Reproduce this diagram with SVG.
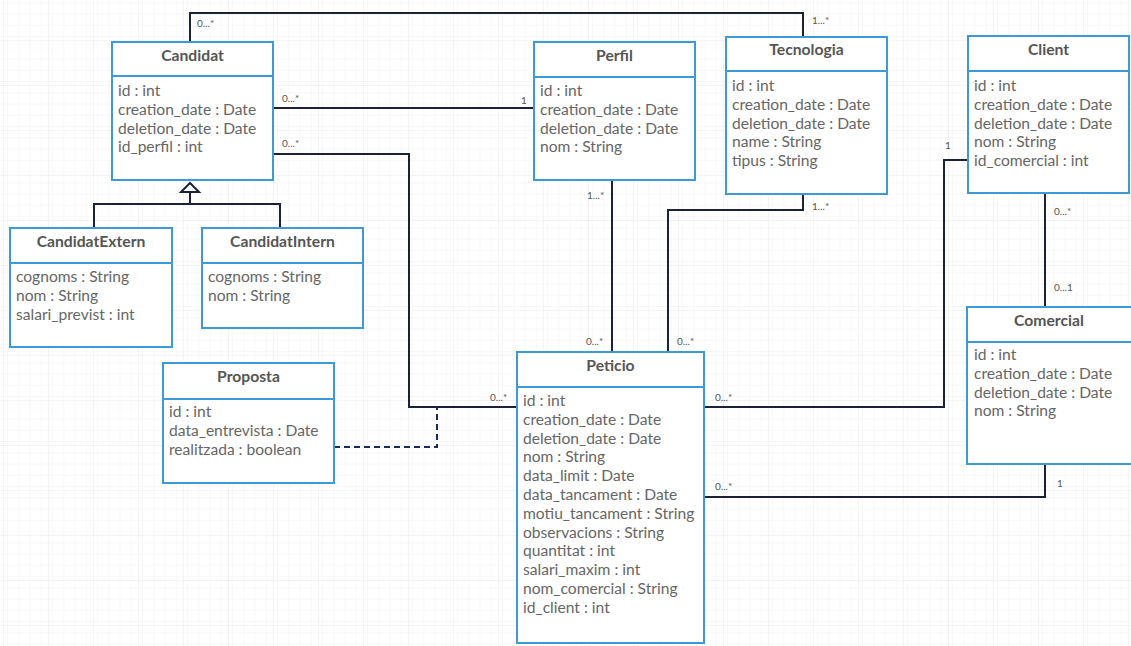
<svg xmlns="http://www.w3.org/2000/svg" width="1131" height="646" viewBox="0 0 1131 646">
<style>
.box{fill:#fff;stroke:#3d9ad6;stroke-width:2}
.div{stroke:#3d9ad6;stroke-width:2}
.title{font-family:Lato,"Liberation Sans",sans-serif;font-weight:bold;font-size:15.7px;fill:#555;text-anchor:middle}
.attr{font-family:Lato,"Liberation Sans",sans-serif;font-size:15.6px;fill:#666}
.mult{font-family:Lato,"Liberation Sans",sans-serif;font-size:10px;fill:#555}
.conn{fill:none;stroke:#1b2238;stroke-width:2}
.dash{fill:none;stroke:#1b2a5a;stroke-width:2;stroke-dasharray:6,4}
</style>
<defs>
<pattern id="minor" x="4" y="-4" width="11.25" height="11.25" patternUnits="userSpaceOnUse">
<path d="M11.25 0V11.25M0 11.25H11.25" fill="none" stroke="#f2f2f2" stroke-width="1"/>
</pattern>
<pattern id="major" x="4" y="-4" width="45" height="45" patternUnits="userSpaceOnUse">
<rect width="45" height="45" fill="url(#minor)"/>
<path d="M45 0V45M0 45H45" fill="none" stroke="#e8e8e8" stroke-width="1"/>
</pattern>
</defs>
<rect width="1131" height="646" fill="#fff"/>
<rect width="1131" height="646" fill="url(#major)"/>

<g id="connectors">
<polyline class="conn" points="190,42 190,13 803,13 803,37"/>
<line class="conn" x1="273" y1="108" x2="534" y2="108"/>
<polyline class="conn" points="273,154 409,154 409,407 517,407"/>
<polyline class="dash" points="334,447 437,447 437,407"/>
<polyline class="conn" points="190,193 190,204"/>
<polyline class="conn" points="94,228 94,204 280,204 280,228"/>
<polygon points="190,183 181,192 199,192" fill="#fff" stroke="#1b2238" stroke-width="2"/>
<line class="conn" x1="612" y1="180" x2="612" y2="352"/>
<polyline class="conn" points="803,194 803,210 668,210 668,352"/>
<polyline class="conn" points="968,160 944,160 944,407 704,407"/>
<line class="conn" x1="1045" y1="193" x2="1045" y2="307"/>
<polyline class="conn" points="1045,464 1045,497 704,497"/>
<text class="mult" x="197" y="27">0...*</text>
<text class="mult" x="812" y="24">1...*</text>
<text class="mult" x="282" y="102">0...*</text>
<text class="mult" x="521" y="104">1</text>
<text class="mult" x="282" y="147">0...*</text>
<text class="mult" x="490" y="401">0...*</text>
<text class="mult" x="587" y="199">1...*</text>
<text class="mult" x="586" y="345">0...*</text>
<text class="mult" x="677" y="345">0...*</text>
<text class="mult" x="812" y="210">1...*</text>
<text class="mult" x="945" y="149">1</text>
<text class="mult" x="1054" y="215">0...*</text>
<text class="mult" x="1054" y="291">0...1</text>
<text class="mult" x="715" y="401">0...*</text>
<text class="mult" x="715" y="490">0...*</text>
<text class="mult" x="1057" y="487">1</text>
</g>

<g id="Candidat">
<rect class="box" x="112" y="42" width="161" height="138"/>
<line class="div" x1="112" y1="76" x2="273" y2="76"/>
<text class="title" x="192.5" y="61">Candidat</text>
<text class="attr" x="118" y="96">id : int</text>
<text class="attr" x="118" y="114.8">creation_date : Date</text>
<text class="attr" x="118" y="133.6">deletion_date : Date</text>
<text class="attr" x="118" y="152.4">id_perfil : int</text>
</g>

<g id="Perfil">
<rect class="box" x="534" y="42" width="161" height="138"/>
<line class="div" x1="534" y1="77" x2="695" y2="77"/>
<text class="title" x="614.5" y="61">Perfil</text>
<text class="attr" x="540" y="96">id : int</text>
<text class="attr" x="540" y="114.8">creation_date : Date</text>
<text class="attr" x="540" y="133.6">deletion_date : Date</text>
<text class="attr" x="540" y="152.4">nom : String</text>
</g>

<g id="Tecnologia">
<rect class="box" x="726" y="37" width="161" height="157"/>
<line class="div" x1="726" y1="71" x2="887" y2="71"/>
<text class="title" x="806.5" y="55">Tecnologia</text>
<text class="attr" x="732" y="91">id : int</text>
<text class="attr" x="732" y="109.8">creation_date : Date</text>
<text class="attr" x="732" y="128.6">deletion_date : Date</text>
<text class="attr" x="732" y="147.4">name : String</text>
<text class="attr" x="732" y="166.2">tipus : String</text>
</g>

<g id="Client">
<rect class="box" x="968" y="36" width="161" height="157"/>
<line class="div" x1="968" y1="71" x2="1129" y2="71"/>
<text class="title" x="1048.5" y="55">Client</text>
<text class="attr" x="974" y="91">id : int</text>
<text class="attr" x="974" y="109.8">creation_date : Date</text>
<text class="attr" x="974" y="128.6">deletion_date : Date</text>
<text class="attr" x="974" y="147.4">nom : String</text>
<text class="attr" x="974" y="166.2">id_comercial : int</text>
</g>

<g id="Comercial">
<rect class="box" x="967" y="307" width="175" height="157"/>
<line class="div" x1="967" y1="342" x2="1142" y2="342"/>
<text class="title" x="1049" y="326">Comercial</text>
<text class="attr" x="974" y="360">id : int</text>
<text class="attr" x="974" y="378.8">creation_date : Date</text>
<text class="attr" x="974" y="397.6">deletion_date : Date</text>
<text class="attr" x="974" y="416.4">nom : String</text>
</g>

<g id="CandidatExtern">
<rect class="box" x="10" y="228" width="162" height="119"/>
<line class="div" x1="10" y1="263" x2="172" y2="263"/>
<text class="title" x="91" y="247">CandidatExtern</text>
<text class="attr" x="16" y="282">cognoms : String</text>
<text class="attr" x="16" y="300.8">nom : String</text>
<text class="attr" x="16" y="319.6">salari_previst : int</text>
</g>

<g id="CandidatIntern">
<rect class="box" x="202" y="228" width="161" height="100"/>
<line class="div" x1="202" y1="263" x2="363" y2="263"/>
<text class="title" x="282.5" y="247">CandidatIntern</text>
<text class="attr" x="208" y="282">cognoms : String</text>
<text class="attr" x="208" y="300.8">nom : String</text>
</g>

<g id="Proposta">
<rect class="box" x="163" y="363" width="171" height="120"/>
<line class="div" x1="163" y1="399" x2="334" y2="399"/>
<text class="title" x="248.5" y="382">Proposta</text>
<text class="attr" x="169" y="417">id : int</text>
<text class="attr" x="169" y="435.8">data_entrevista : Date</text>
<text class="attr" x="169" y="454.6">realitzada : boolean</text>
</g>

<g id="Peticio">
<rect class="box" x="517" y="352" width="187" height="291"/>
<line class="div" x1="517" y1="387" x2="704" y2="387"/>
<text class="title" x="610.5" y="371">Peticio</text>
<text class="attr" x="523" y="406">id : int</text>
<text class="attr" x="523" y="424.8">creation_date : Date</text>
<text class="attr" x="523" y="443.6">deletion_date : Date</text>
<text class="attr" x="523" y="462.4">nom : String</text>
<text class="attr" x="523" y="481.2">data_limit : Date</text>
<text class="attr" x="523" y="500">data_tancament : Date</text>
<text class="attr" x="523" y="518.8">motiu_tancament : String</text>
<text class="attr" x="523" y="537.6">observacions : String</text>
<text class="attr" x="523" y="556.4">quantitat : int</text>
<text class="attr" x="523" y="575.2">salari_maxim : int</text>
<text class="attr" x="523" y="594">nom_comercial : String</text>
<text class="attr" x="523" y="612.8">id_client : int</text>
</g>
</svg>
